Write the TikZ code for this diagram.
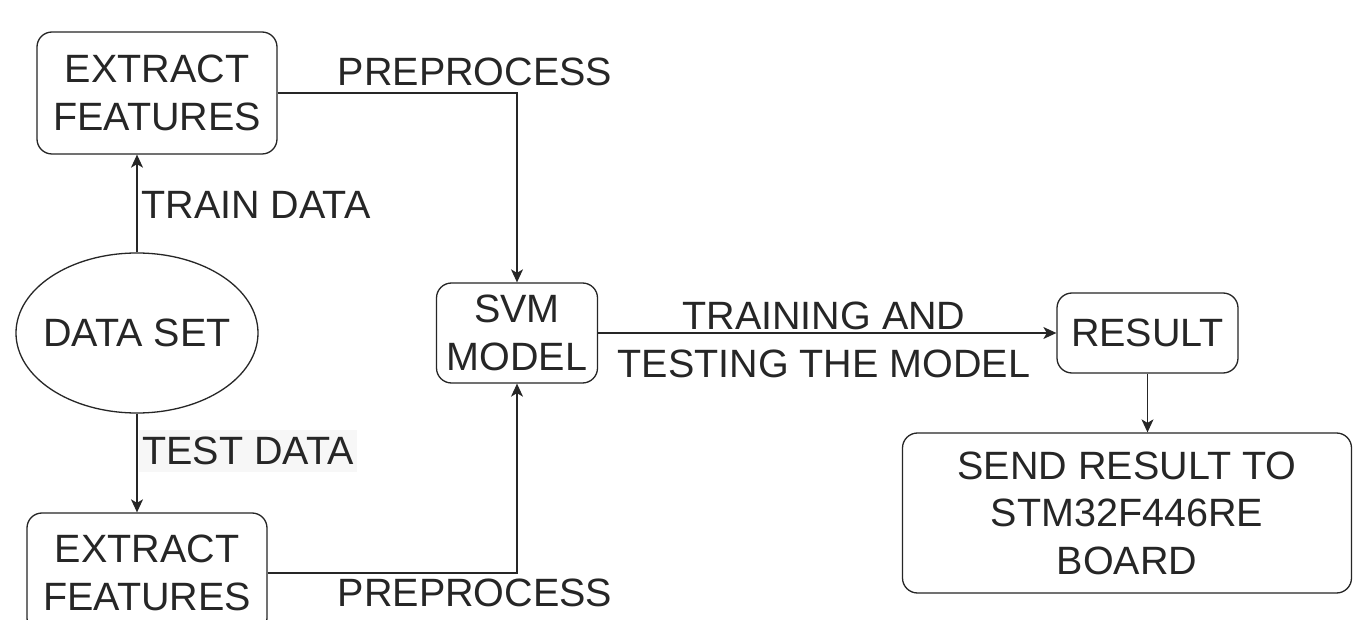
\documentclass[tikz,border=0pt]{standalone}
\usepackage{fontspec}
\setmainfont{Liberation Sans}
\usetikzlibrary{shapes.geometric,arrows.meta}
\begin{document}
\begin{tikzpicture}[x=1pt,y=-1pt,
  txt/.style={font=\fontsize{39.5}{47.5}\selectfont, text=black!85, inner sep=0pt, align=center},
  stepbox/.style={txt, draw=black!85, line width=1.3pt, rounded corners=15pt},
  lbl/.style={txt},
  flow/.style={draw=black!85, line width=1.3pt},
  arr/.style={flow, -{Stealth[length=13pt,width=12pt,inset=3.5pt]}}]
  \clip (0,0) rectangle (1353,620);
  \fill[white] (0,0) rectangle (1353,620);

  % boxes
  \node[stepbox, minimum width=240pt, minimum height=122pt] (ef1) at (157,93) {EXTRACT\\FEATURES};
  \node[txt, draw=black!85, line width=1.3pt, ellipse, inner xsep=-12pt, inner ysep=0pt,
        minimum width=242pt, minimum height=160pt] (ds) at (137,333) {DATA SET};
  \node[stepbox, minimum width=240pt, minimum height=120pt] (ef2) at (147,573) {EXTRACT\\FEATURES};
  \node[stepbox, minimum width=161pt, minimum height=100pt] (svm) at (517,333) {SVM\\MODEL};
  \node[stepbox, minimum width=181pt, minimum height=80pt] (res) at (1147.5,333) {RESULT};
  \node[stepbox, minimum width=449pt, minimum height=160pt] (send) at (1127,513) {SEND RESULT TO\\STM32F446RE\\BOARD};

  % connectors
  \draw[arr] (ds.north) -- (ds.north |- ef1.south);
  \draw[arr] (ds.south) -- (ds.south |- ef2.north);
  \draw[arr] (ef1.east) -| (svm.north);
  \draw[arr] (ef2.east) -| (svm.south);
  \draw[arr] (svm.east) -- (res.west);
  \draw[arr] (res.south) -- (res.south |- send.north);

  % connector labels
  \node[lbl] (pp1) at (475,72) {PREPROCESS};
  \node[lbl] (pp2) at (475,593) {PREPROCESS};
  \node[lbl] (trd) at (256,205) {TRAIN DATA};
  \node[lbl, fill=black!3, inner xsep=3pt, inner ysep=7pt] (ted) at (248,451) {TEST DATA};
  \node[lbl] (tt) at (824,340) {TRAINING AND\\TESTING THE MODEL};
\end{tikzpicture}
\end{document}
